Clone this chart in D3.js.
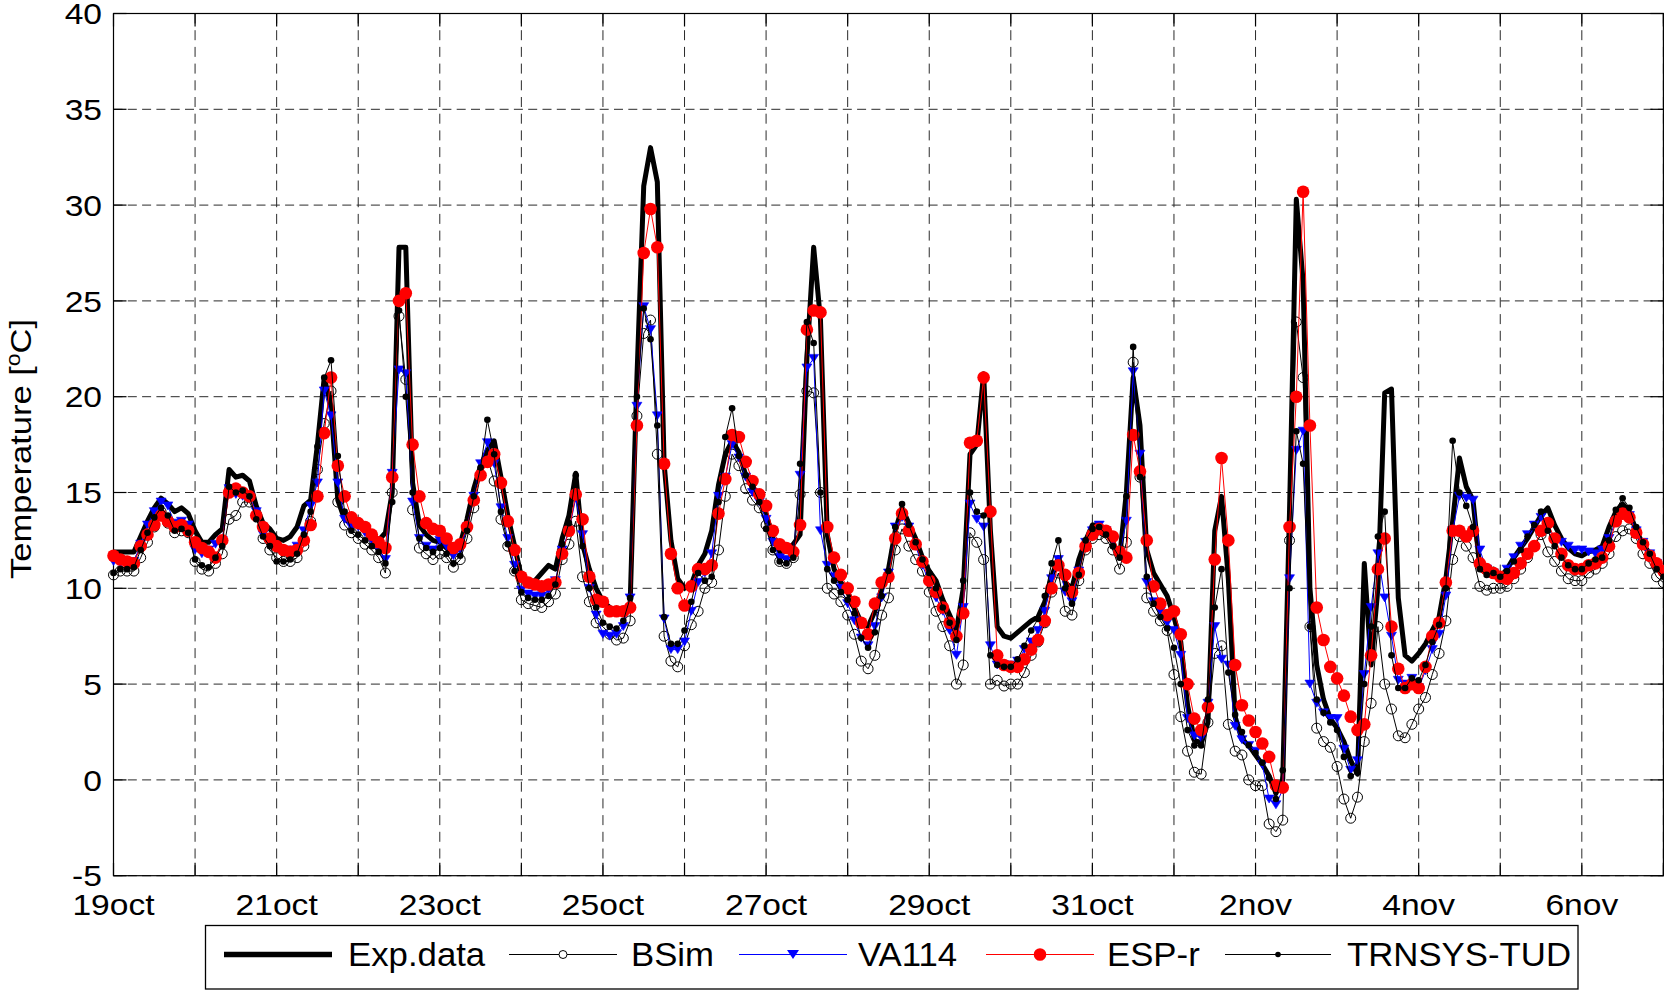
<!DOCTYPE html>
<html><head><meta charset="utf-8">
<script src="https://cdn.jsdelivr.net/npm/d3@7"></script>
<style>html,body{margin:0;padding:0;background:#fff;}svg{display:block;}</style>
</head><body>
<svg id="chart" width="1664" height="992"></svg>
<script>
// ---------- data (2-hourly samples from 19 oct 00:00) ----------
const hours = d3.range(0, 457, 2);               // sample times, hours after 19oct 00:00
const gridDays = d3.range(0, 20);                // one grid line per day
const xTickDays = [0, 2, 4, 6, 8, 10, 12, 14, 16, 18];
const xTickLabels = ["19oct","21oct","23oct","25oct","27oct","29oct","31oct","2nov","4nov","6nov"];
const yTicks = [-5, 0, 5, 10, 15, 20, 25, 30, 35, 40];
const seriesNames = ["Exp.data", "BSim", "VA114", "ESP-r", "TRNSYS-TUD"];

const expData = [
 11.9,11.9,11.9,11.9,12.7,13.5,14.2,14.7,14.4,14.0,14.2,13.9,
 13.0,12.4,12.4,12.8,13.1,16.2,15.8,15.9,15.6,14.3,13.4,13.1,
 12.6,12.5,12.7,13.2,14.3,14.6,17.5,21.0,19.5,14.6,13.6,13.4,
 13.3,13.0,12.8,12.5,12.9,15.0,27.8,27.8,15.5,13.3,12.8,12.5,
 12.4,12.1,11.8,12.3,13.6,15.2,16.4,17.2,17.7,15.8,13.8,12.2,
 10.6,10.3,10.4,10.8,11.2,11.0,12.6,13.8,16.0,12.3,11.0,10.0,
 9.3,9.0,8.7,8.8,9.2,21.0,31.0,33.0,31.2,16.5,12.5,10.5,
 10.0,10.2,11.2,11.8,13.0,15.4,17.0,17.7,17.1,15.9,15.3,14.8,
 13.9,12.6,11.9,12.0,12.3,12.8,22.0,27.8,24.0,12.8,11.0,10.3,
 9.8,9.0,8.2,8.0,8.8,10.0,11.0,13.0,14.2,13.4,12.6,11.6,
 10.9,10.4,9.4,8.6,7.8,10.0,17.0,17.5,21.2,13.0,8.0,7.5,
 7.4,7.7,8.0,8.3,8.5,9.3,10.6,11.6,10.3,10.0,11.5,12.5,
 13.3,13.3,13.0,12.4,11.6,15.0,21.0,18.5,12.0,10.8,10.2,9.6,
 8.5,7.2,3.9,2.1,1.9,3.0,13.0,14.8,10.5,3.3,2.1,1.8,
 1.3,0.8,0.2,-0.7,0.0,14.0,30.3,26.0,10.0,6.0,4.2,3.2,
 2.7,2.0,1.0,0.3,11.3,6.0,10.0,20.2,20.4,9.5,6.5,6.2,
 6.6,7.1,7.8,8.5,10.5,13.5,16.8,15.3,14.6,11.0,10.8,11.0,
 10.6,11.0,11.6,12.1,12.6,13.2,13.8,14.2,13.3,12.6,12.1,11.8,
 11.7,11.9,12.0,12.2,13.2,14.0,14.4,14.0,13.0,12.3,11.8,11.3,10.8
];
const bsimData = [
 10.7,10.9,10.9,10.9,11.6,12.4,13.2,14.0,13.4,12.9,13.0,12.9,
 11.4,11.0,10.9,11.3,11.8,13.6,13.8,14.5,14.5,13.8,12.6,12.0,
 11.6,11.4,11.4,11.6,12.2,13.5,16.2,18.6,20.3,14.5,13.3,12.9,
 12.6,12.3,12.0,11.6,10.8,15.0,24.2,20.9,14.1,12.1,11.8,11.5,
 11.8,11.6,11.1,11.5,12.6,14.2,15.9,16.8,15.6,13.6,12.2,10.9,
 9.4,9.2,9.1,9.0,9.3,9.7,11.5,12.3,13.5,10.6,9.3,8.2,
 8.0,7.6,7.3,7.4,8.3,19.0,23.3,24.0,17.0,7.5,6.2,5.9,
 7.0,8.1,8.8,10.0,10.3,12.0,14.8,17.0,16.4,15.2,14.6,14.2,
 13.3,12.0,11.4,11.3,11.6,14.9,20.3,20.2,15.0,10.0,9.7,9.3,
 8.6,7.6,6.2,5.8,6.5,8.6,9.5,12.0,13.1,12.2,11.5,10.9,
 9.8,8.8,8.0,7.0,5.0,6.0,12.9,12.4,11.5,5.0,5.2,4.9,
 5.0,5.0,5.6,6.5,7.2,8.2,9.8,10.8,8.8,8.6,10.4,12.0,
 12.6,12.8,12.6,12.0,11.0,12.4,21.8,15.8,9.5,8.8,8.3,7.8,
 5.5,3.3,1.5,0.4,0.3,3.0,6.6,7.0,2.9,1.5,1.3,0.0,
 -0.3,-0.3,-2.3,-2.7,-2.1,12.5,23.9,21.0,8.0,2.7,2.0,1.7,
 0.7,-1.0,-2.0,-0.9,2.0,4.0,8.0,5.0,3.7,2.3,2.2,2.9,
 3.7,4.3,5.5,6.6,8.3,11.5,12.7,12.2,11.6,10.1,9.9,10.0,
 10.0,10.1,10.5,11.0,11.6,12.2,12.8,11.9,11.4,10.9,10.5,10.4,
 10.4,10.8,11.0,11.3,11.8,12.7,13.0,13.1,12.6,11.8,11.3,10.6,10.3
];
const va114Data = [
 11.4,11.3,11.3,11.4,12.3,13.3,14.0,14.5,14.3,13.4,13.5,13.3,
 12.0,11.8,12.0,12.3,12.5,15.2,14.9,14.8,14.8,14.0,12.8,12.4,
 12.1,11.9,12.0,12.2,13.0,14.3,15.5,20.3,19.0,15.5,13.6,13.2,
 13.2,12.9,12.5,12.0,11.5,16.0,21.4,21.2,14.5,12.6,12.2,12.0,
 12.5,12.2,11.7,12.0,13.2,14.8,16.5,17.6,16.5,14.2,12.6,11.2,
 9.9,9.7,9.6,9.6,9.9,10.4,12.0,13.0,14.7,12.8,10.0,8.6,
 7.6,7.5,7.6,8.0,9.5,19.5,24.7,23.5,19.0,8.4,6.8,6.8,
 7.2,8.8,10.3,10.8,11.8,14.8,15.8,17.5,16.8,15.8,15.0,14.5,
 13.6,12.4,11.6,11.5,11.8,15.9,21.5,22.0,13.0,11.2,10.6,10.0,
 9.2,8.3,7.4,7.0,8.0,9.5,10.8,13.2,13.7,13.2,12.2,11.2,
 10.3,9.5,8.8,7.8,6.5,9.0,14.4,13.6,13.2,7.0,6.0,6.0,
 6.0,6.2,6.8,7.2,7.8,8.8,10.5,11.5,9.8,9.3,10.9,12.4,
 13.0,13.3,13.0,12.5,11.8,13.5,21.3,17.0,10.3,9.3,8.8,8.2,
 7.8,6.5,3.2,2.3,2.2,4.0,8.0,6.3,6.0,2.8,2.1,1.8,
 1.5,0.8,-1.0,-1.3,-0.5,10.5,17.2,18.2,5.0,4.0,3.5,3.2,
 3.2,1.6,0.5,1.0,5.5,9.0,11.8,9.5,7.5,5.2,5.0,5.3,
 4.8,5.7,6.8,7.6,9.6,13.0,14.8,14.7,14.6,12.0,11.0,10.8,
 10.6,11.0,11.6,12.2,12.8,13.3,13.7,13.2,12.6,12.4,12.2,12.0,
 12.0,11.9,11.8,12.0,12.6,13.5,13.8,13.8,13.0,12.4,11.8,11.3,10.9
];
const esprData = [
 11.7,11.5,11.4,11.3,12.2,12.8,13.3,13.8,13.5,13.2,13.3,13.0,
 12.4,12.1,11.9,11.6,12.5,15.0,15.2,15.0,14.8,13.8,13.2,12.6,
 12.2,12.0,11.9,12.0,12.5,13.3,14.8,18.1,21.0,16.4,14.8,13.7,
 13.4,13.2,12.8,12.4,12.1,15.8,25.0,25.4,17.5,14.8,13.4,13.1,
 13.0,12.6,12.1,12.3,13.2,14.6,15.9,16.6,17.0,15.5,13.5,12.0,
 10.6,10.3,10.2,10.1,10.2,10.3,11.8,13.0,14.9,13.6,10.6,9.4,
 9.3,8.8,8.8,8.8,9.0,18.5,27.5,29.8,27.8,16.5,11.8,10.0,
 9.1,10.1,11.0,11.0,11.2,13.9,15.7,18.0,17.9,16.6,15.6,14.9,
 14.3,13.0,12.3,12.1,11.9,13.3,23.5,24.5,24.4,13.2,11.6,10.7,
 10.0,9.3,8.2,7.6,9.2,10.3,10.6,12.6,13.9,13.0,12.3,11.4,
 10.4,9.8,9.0,8.2,7.5,8.7,17.6,17.7,21.0,14.0,6.5,6.0,
 5.9,5.9,6.3,6.8,7.3,8.3,10.0,11.2,10.7,9.8,10.8,12.2,
 12.8,13.1,13.0,12.7,11.9,11.6,18.0,16.1,12.5,10.1,9.2,8.6,
 8.8,7.6,5.0,3.2,2.6,3.8,11.5,16.8,12.5,6.0,3.9,3.1,
 2.5,1.9,1.2,-0.3,-0.4,13.2,20.0,30.7,18.5,9.0,7.3,5.9,
 5.3,4.4,3.3,2.6,2.9,6.5,11.0,12.6,8.0,5.8,4.8,5.0,
 4.8,5.9,7.5,8.2,10.3,13.0,13.0,12.7,13.0,11.3,11.0,10.8,
 10.6,10.5,10.8,11.3,11.8,12.2,13.0,13.4,12.6,11.8,11.2,11.0,
 11.0,11.2,11.3,11.6,12.2,13.5,13.9,13.7,12.9,12.3,11.7,11.3,10.9
];
const trnsysData = [
 10.8,11.0,11.0,11.1,12.0,12.9,13.7,14.2,13.8,13.0,13.1,12.9,
 11.5,11.2,11.1,11.6,12.2,15.3,15.0,15.1,14.8,13.6,12.7,12.2,
 11.4,11.4,11.5,11.8,12.8,14.0,17.4,21.0,21.9,16.9,14.0,13.0,
 12.8,12.5,12.2,11.9,11.3,14.5,24.5,20.0,15.0,12.6,12.1,11.9,
 12.1,11.8,11.3,11.7,13.0,14.8,16.3,18.8,17.0,14.0,12.3,10.9,
 9.8,9.5,9.4,9.4,9.6,10.2,12.3,13.4,15.9,12.2,10.0,9.0,
 8.2,8.0,7.9,8.3,9.5,20.0,24.6,23.0,18.5,8.5,7.1,7.1,
 7.8,9.3,10.8,10.4,10.6,14.5,17.9,19.4,16.9,15.9,15.3,14.5,
 13.1,12.0,11.4,11.3,11.6,16.5,23.9,22.8,15.0,11.0,10.4,9.8,
 9.4,8.7,7.4,6.9,7.7,9.6,10.9,13.2,14.4,13.3,12.4,11.5,
 10.8,10.0,9.0,8.2,7.3,10.4,15.0,14.0,13.8,6.5,6.0,5.9,
 5.9,6.3,7.0,7.8,8.4,9.6,11.3,12.5,10.0,9.2,10.7,12.5,
 13.1,13.2,12.8,12.2,11.6,14.8,22.6,15.8,10.6,9.2,8.5,7.9,
 6.9,5.0,2.6,1.8,1.8,4.2,9.0,11.0,5.6,3.4,2.5,1.8,
 1.4,0.9,0.1,-1.0,0.5,10.0,18.2,16.5,8.0,4.2,3.5,3.0,
 2.6,1.2,0.2,0.4,5.0,8.0,12.7,14.0,6.5,4.8,4.8,5.3,
 5.2,6.0,7.2,8.1,10.0,17.7,15.0,14.3,13.2,11.0,10.7,10.8,
 10.6,10.9,11.4,12.0,12.7,13.3,14.0,13.0,12.2,11.6,11.2,11.0,
 11.0,11.3,11.5,11.6,12.5,14.1,14.7,14.2,13.2,12.4,11.8,11.0,10.6
];

// ---------- layout ----------
const svg = d3.select("#chart");
const X0 = 113.5, X1 = 1663.4, Y0 = 13.5, Y1 = 875.7;
const x = d3.scaleLinear().domain([0, 456]).range([X0, X1]);
const y = d3.scaleLinear().domain([-5, 40]).range([Y1, Y0]);
const FONT = "'Liberation Sans', Arial, Helvetica, sans-serif";

function stretchedText(g, px, py, str, size, anchor, sx, rot) {
  const t = g.append("text")
    .attr("transform", `translate(${px},${py}) rotate(${rot || 0}) scale(${sx},1)`)
    .attr("font-family", FONT).attr("font-size", size)
    .attr("text-anchor", anchor).attr("fill", "#000");
  if (str !== null) t.text(str);
  return t;
}

// grid
const grid = svg.append("g");
grid.selectAll("line.vg").data(gridDays).enter().append("line")
  .attr("x1", d => x(d * 24)).attr("x2", d => x(d * 24))
  .attr("y1", Y0).attr("y2", Y1)
  .attr("stroke", "#2a2a2a").attr("stroke-width", 1).attr("stroke-dasharray", "10,6.7");
grid.selectAll("line.hg").data(yTicks).enter().append("line")
  .attr("x1", X0).attr("x2", X1)
  .attr("y1", d => y(d)).attr("y2", d => y(d))
  .attr("stroke", "#2a2a2a").attr("stroke-width", 1).attr("stroke-dasharray", "9,5.3");

// axis box and inward ticks
const ax = svg.append("g").attr("stroke", "#000").attr("stroke-width", 1.2);
ax.append("rect").attr("x", X0).attr("y", Y0).attr("width", X1 - X0).attr("height", Y1 - Y0).attr("fill", "none");
gridDays.forEach(d => {
  ax.append("line").attr("x1", x(d*24)).attr("x2", x(d*24)).attr("y1", Y1).attr("y2", Y1 - 13);
  ax.append("line").attr("x1", x(d*24)).attr("x2", x(d*24)).attr("y1", Y0).attr("y2", Y0 + 13);
});
yTicks.forEach(v => {
  ax.append("line").attr("x1", X0).attr("x2", X0 + 13).attr("y1", y(v)).attr("y2", y(v));
  ax.append("line").attr("x1", X1).attr("x2", X1 - 13).attr("y1", y(v)).attr("y2", y(v));
});

// tick labels
const lab = svg.append("g");
yTicks.forEach(v => stretchedText(lab, 102, y(v) + 10.7, String(v), 30, "end", 1.12));
xTickDays.forEach((d, i) => stretchedText(lab, x(d * 24), 915, xTickLabels[i], 30, "middle", 1.12));

// y label
const yl = stretchedText(lab, 31, 449, null, 30, "middle", 1.15, -90);
yl.append("tspan").text("Temperature [");
yl.append("tspan").attr("font-size", 20).attr("dy", -11).text("o");
yl.append("tspan").attr("dy", 11).text("C]");

// ---------- series ----------
const line = vals => d3.line().x((d, i) => x(hours[i])).y(d => y(d))(vals);
const plot = svg.append("g");
const triPath = "M-5,-4L5,-4L0,4Z";

// Exp.data
plot.append("path").attr("d", line(expData)).attr("fill", "none")
  .attr("stroke", "#000").attr("stroke-width", 5).attr("stroke-linejoin", "round");

// BSim
plot.append("path").attr("d", line(bsimData)).attr("fill", "none").attr("stroke", "#000").attr("stroke-width", 1);
plot.append("g").selectAll("circle").data(bsimData).enter().append("circle")
  .attr("cx", (d, i) => x(hours[i])).attr("cy", d => y(d)).attr("r", 5)
  .attr("fill", "none").attr("stroke", "#000").attr("stroke-width", 1);

// VA114
plot.append("path").attr("d", line(va114Data)).attr("fill", "none").attr("stroke", "#0000ff").attr("stroke-width", 1);
plot.append("g").selectAll("path").data(va114Data).enter().append("path")
  .attr("d", triPath).attr("transform", (d, i) => `translate(${x(hours[i])},${y(d)})`)
  .attr("fill", "#0000ff").attr("stroke", "#0000ff").attr("stroke-width", 0.6);

// ESP-r
plot.append("path").attr("d", line(esprData)).attr("fill", "none").attr("stroke", "#ff0000").attr("stroke-width", 1);
plot.append("g").selectAll("circle").data(esprData).enter().append("circle")
  .attr("cx", (d, i) => x(hours[i])).attr("cy", d => y(d)).attr("r", 6.3).attr("fill", "#ff0000");

// TRNSYS-TUD
plot.append("path").attr("d", line(trnsysData)).attr("fill", "none").attr("stroke", "#000").attr("stroke-width", 1);
plot.append("g").selectAll("circle").data(trnsysData).enter().append("circle")
  .attr("cx", (d, i) => x(hours[i])).attr("cy", d => y(d)).attr("r", 3.3).attr("fill", "#000");

// ---------- legend ----------
const lg = svg.append("g");
lg.append("rect").attr("x", 205.5).attr("y", 925.5).attr("width", 1372.5).attr("height", 63.5)
  .attr("fill", "#fff").attr("stroke", "#000").attr("stroke-width", 1.3);
const ly = 954.5;
const legendItems = [
  {x1: 224, x2: 332, tx: 348, color: "#000", w: 5.5, marker: null},
  {x1: 509, x2: 617, tx: 631, color: "#000", w: 1, marker: "open"},
  {x1: 739, x2: 847, tx: 858, color: "#0000ff", w: 1, marker: "tri"},
  {x1: 986, x2: 1094, tx: 1107, color: "#ff0000", w: 1, marker: "big"},
  {x1: 1225, x2: 1331, tx: 1347, color: "#000", w: 1, marker: "dot"}
];
legendItems.forEach((it, i) => {
  lg.append("line").attr("x1", it.x1).attr("x2", it.x2).attr("y1", ly).attr("y2", ly)
    .attr("stroke", it.color).attr("stroke-width", it.w);
  const cx = (it.x1 + it.x2) / 2;
  if (it.marker === "open") lg.append("circle").attr("cx", cx).attr("cy", ly).attr("r", 4).attr("fill", "#fff").attr("stroke", "#000");
  if (it.marker === "tri") lg.append("path").attr("d", "M-6,-4.5L6,-4.5L0,4.5Z").attr("transform", `translate(${cx},${ly})`).attr("fill", "#0000ff");
  if (it.marker === "big") lg.append("circle").attr("cx", cx).attr("cy", ly).attr("r", 6.3).attr("fill", "#ff0000");
  if (it.marker === "dot") lg.append("circle").attr("cx", cx).attr("cy", ly).attr("r", 2.8).attr("fill", "#000");
  stretchedText(lg, it.tx, 966, seriesNames[i], 32.5, "start", 1.07);
});
</script>
</body></html>
